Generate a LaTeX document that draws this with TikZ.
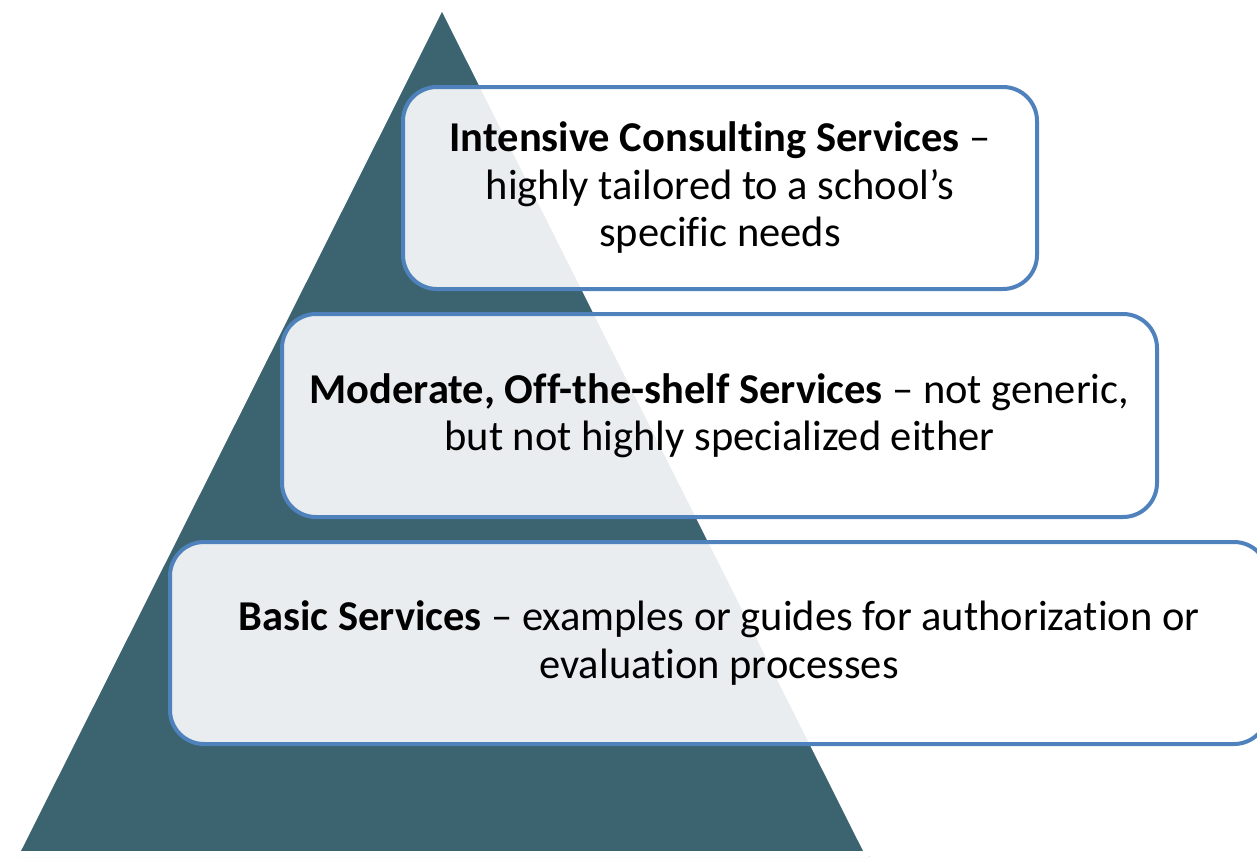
\documentclass[tikz,border=0pt]{standalone}
\usepackage{fontspec}
\setmainfont{Carlito}[Ligatures=NoCommon]
\definecolor{pyramidteal}{HTML}{3B6470}
\definecolor{tierblue}{HTML}{4F81BD}
\tikzset{
	tierbox/.style={draw=tierblue, line width=4pt, fill=white, fill opacity=0.89, text opacity=1,
		rounded corners=34pt, align=center, inner sep=0pt, font=\fontsize{42.5}{47.5}\selectfont},
}

\begin{document}
\begin{tikzpicture}[x=1pt,y=-1pt]
		\useasboundingbox (0,0) rectangle (1257,860);
		%%  Pyramid  %%%%%%%%
		\fill[black!14, line join=round] (444,8) -- (18,857) -- (870,857) -- cycle;
		\draw[draw=white, line width=6pt, line join=round, fill=pyramidteal]
			(442,5) coordinate (apex) -- (16,854) coordinate (baseL) -- (868,854) coordinate (baseR) -- cycle;
		%%  Tiers  %%%%%%%%
		\node[tierbox, minimum width=634pt, minimum height=202pt] (intensive) at (720,188)
			{\textbf{Intensive Consulting Services} –\\highly tailored to a school’s\\specific needs};
		\node[tierbox, minimum width=875pt, minimum height=203pt] (moderate) at (719.5,415.5)
			{\textbf{Moderate, Off-the-shelf Services} – not generic,\\but not highly specialized either};
		\node[tierbox, minimum width=1098pt, minimum height=202pt] (basic) at (719,643)
			{\textbf{Basic Services} – examples or guides for authorization or\\evaluation processes};
		%%%%%%%%%%%%%%%
\end{tikzpicture}
\end{document}
